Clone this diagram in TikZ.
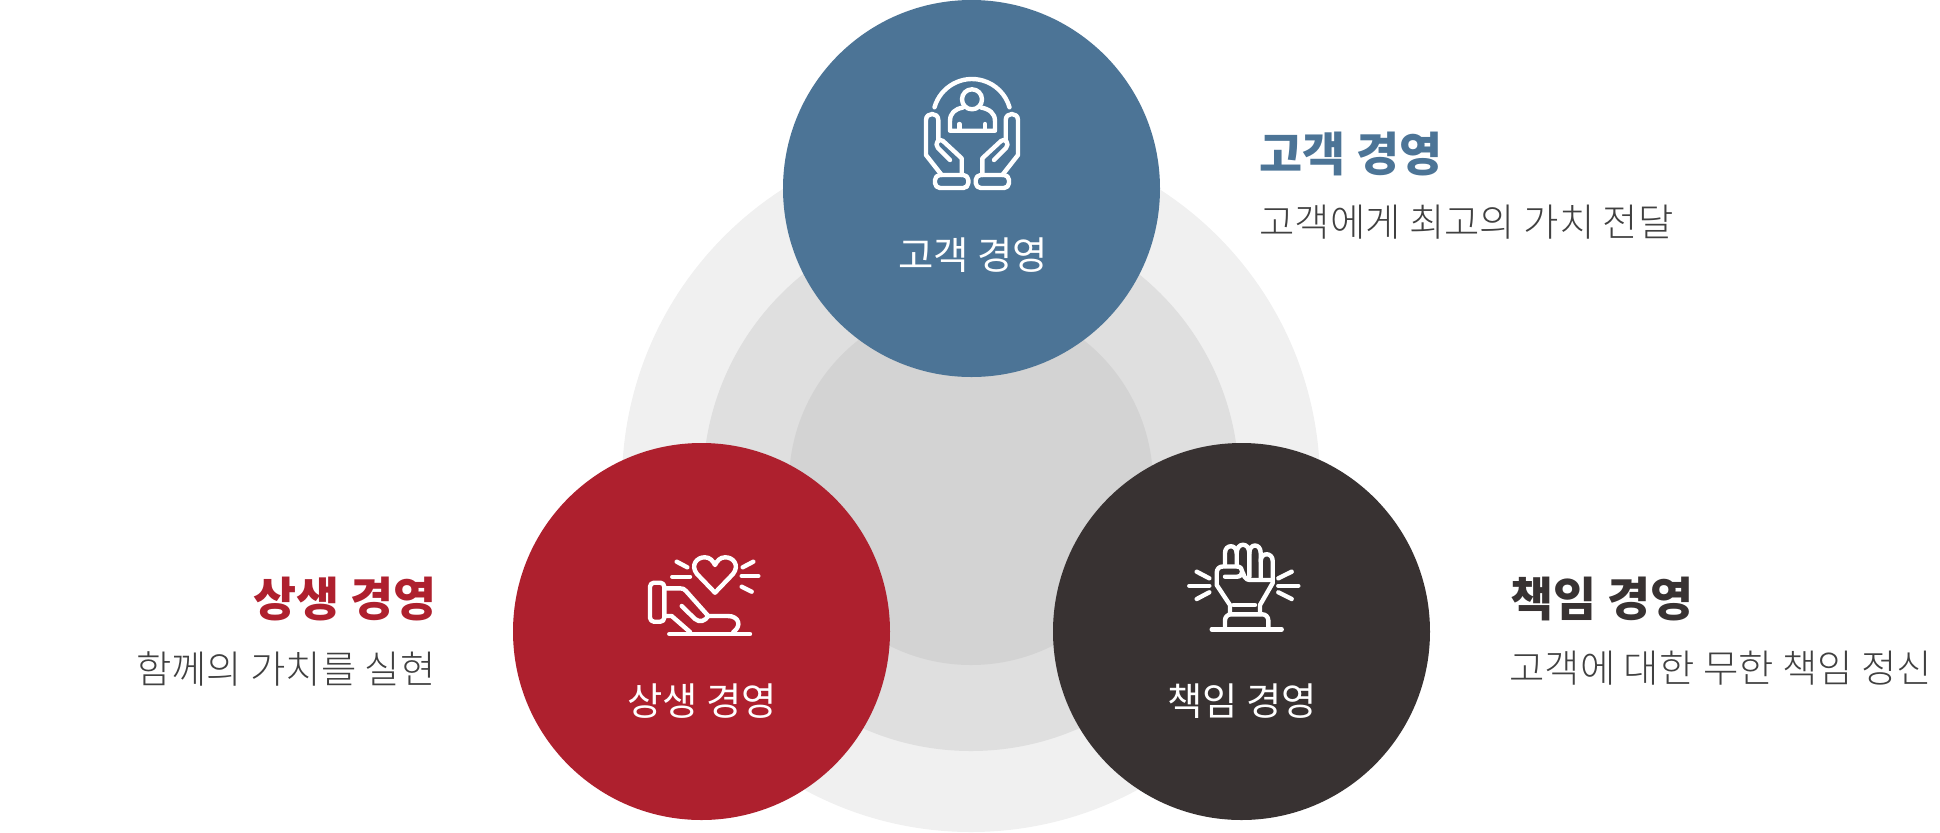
\documentclass[tikz,border=0pt]{standalone}
\usepackage{fontspec}
\setmainfont{Noto Sans CJK KR}
\newfontfamily\fina{Noto Sans CJK KR Light}
\usepackage{xcolor}
\definecolor{azul}{HTML}{4C7496}
\definecolor{rojo}{HTML}{AE202E}
\definecolor{oscuro}{HTML}{383232}
\definecolor{gristexto}{HTML}{404040}
\tikzset{
    circulo/.style={circle, minimum size=188.5pt, inner sep=0pt},
    etiqueta/.style={text=white, font=\fontsize{19.2}{22}\selectfont, inner sep=0pt},
    titulo/.style={font=\fontsize{23.4}{28}\selectfont\bfseries, inner sep=0pt},
    subtitulo/.style={text=gristexto, font=\fina\fontsize{19.2}{24}\selectfont, inner sep=0pt},
    icono/.style={draw=white, line width=2.2pt, line cap=round, line join=round}
}

\begin{document}
\begin{tikzpicture}[x=0.5pt, y=-0.5pt]
    \useasboundingbox (0,0) rectangle (1940,832);

    % Fondo
    \foreach \r/\col in {349/F0F0F0, 268/DFDFDF, 182/D3D3D3} {
        \definecolor{fondo}{HTML}{\col}
        \fill[fondo] (971,483) circle (\r);
    }

    % Circulos principales
    \node[circulo, fill=azul] (cliente) at (971.5,188.5) {};
    \node[circulo, fill=rojo] (mutuo) at (701.5,631.5) {};
    \node[circulo, fill=oscuro] (respons) at (1241.5,631.5) {};

    % Textos de los circulos
    \node[etiqueta] (etqcliente) at (973,255) {고객 경영};
    \node[etiqueta] (etqmutuo) at (702,701) {상생 경영};
    \node[etiqueta] (etqrespons) at (1242,701) {책임 경영};

    % Textos laterales
    \node[titulo, text=azul, anchor=west] (titcliente) at (1259,154) {고객 경영};
    \node[subtitulo, anchor=west] (subcliente) at (1259,222.5) {고객에게 최고의 가치 전달};
    \node[titulo, text=oscuro, anchor=west] (titrespons) at (1510,599) {책임 경영};
    \node[subtitulo, anchor=west] (subrespons) at (1509,668.5) {고객에 대한 무한 책임 정신};
    \node[titulo, text=rojo, anchor=east] (titmutuo) at (437,599) {상생 경영};
    \node[subtitulo, anchor=east] (submutuo) at (436,668.5) {함께의 가치를 실현};

    % Icono azul
    \draw[icono] (972,118) ++(196:39) arc[start angle=196, end angle=344, radius=39];
    \draw[icono] (972,99.3) circle (10);
    \draw[icono] (963,107.5) .. controls (955,109) and (950,113) .. (950,121) -- (950,130.7) -- (995,130.7) -- (995,121) .. controls (995,113) and (989,109) .. (981,107.5);
    \draw[icono] (959.3,124) -- (959.3,130.7);
    \draw[icono] (985,124) -- (985,130.7);
    \foreach \s in {1,-1} {
        \begin{scope}[shift={(972,0)}, xscale=\s]
            \draw[icono] (-30.3,175) -- (-46,155) -- (-46,120) .. controls (-46,112) and (-33.7,112) .. (-33.7,120) -- (-33.7,141);
            \draw[icono] (-22,160) -- (-34,148) .. controls (-38,144) and (-33,137) .. (-29,141) -- (-10.3,158.3) -- (-10.3,175);
            \draw[icono, rounded corners=2.5pt] (-37,175) rectangle (-3.7,188);
        \end{scope}
    }

    % Icono rojo
    \draw[icono] (715,592.7) -- (697,574) .. controls (690,565) and (697,557) .. (705,557.3) .. controls (710,557.3) and (713,561) .. (715,565) .. controls (717,561) and (720,557.3) .. (725,557.3) .. controls (733,557) and (740,565) .. (733,574) -- cycle;
    \foreach \a/\b/\c/\d in {676.7/561.7/687.3/567.3, 672.3/576.7/690/576.7, 742.7/567.3/753.3/561.7, 741.7/576/758.3/576, 741.7/586.7/751.7/591.7}
        \draw[icono] (\a,\b) -- (\c,\d);
    \draw[icono, rounded corners=2pt] (650,582.7) rectangle (664.3,621.7);
    \draw[icono] (664.3,588.3) -- (680,588.3) .. controls (683,588.3) and (684,589) .. (686,591) -- (708.3,616) -- (728,616) .. controls (739,616) and (742,626) .. (733.3,632);
    \draw[icono] (664.3,616) -- (671.7,616) -- (690,632);
    \draw[icono] (681.7,606) -- (695,619) .. controls (700,623) and (705,621) .. (708.3,616);
    \draw[icono] (669.3,634) -- (750,634);

    % Icono oscuro
    \draw[icono] (1211.7,629.3) -- (1281.7,629.3);
    \draw[icono, rounded corners=3pt] (1225,629.3) -- (1225,614.3) -- (1268.3,614.3) -- (1268.3,629.3);
    \draw[icono] (1233.3,605) -- (1255,605);
    \draw[icono] (1230,614) -- (1230,605) -- (1216.7,585) -- (1216.7,573) .. controls (1216.7,569) and (1219,566.5) .. (1223,566.5) -- (1237,566.5) .. controls (1244,566.5) and (1244,576.7) .. (1237,576.7) -- (1225,576.7);
    \draw[icono] (1225,566) -- (1225,553) .. controls (1225,544) and (1236.7,544) .. (1236.7,553) -- (1236.7,566);
    \draw[icono] (1236.7,553) .. controls (1236.7,542) and (1249.3,542) .. (1249.3,553) -- (1249.3,577);
    \draw[icono] (1249.3,553) .. controls (1249.3,543) and (1260.7,543) .. (1260.7,553) -- (1260.7,579);
    \draw[icono] (1260.7,561) .. controls (1260.7,552) and (1272.7,552) .. (1272.7,561) -- (1272.7,583) -- (1260,605) -- (1260,614);
    \draw[icono] (1243,573) .. controls (1245,580) and (1248,580) .. (1252,580) -- (1272,580);
    \foreach \a/\b/\c/\d in {1196.7/571.7/1209.3/578.3, 1189.3/585.7/1209.3/585.7, 1196.7/599/1209.3/592.3, 1278.3/578.3/1291.7/571.7, 1278.3/585.7/1298.3/585.7, 1278.3/592.3/1291.7/599}
        \draw[icono] (\a,\b) -- (\c,\d);
\end{tikzpicture}
\end{document}
